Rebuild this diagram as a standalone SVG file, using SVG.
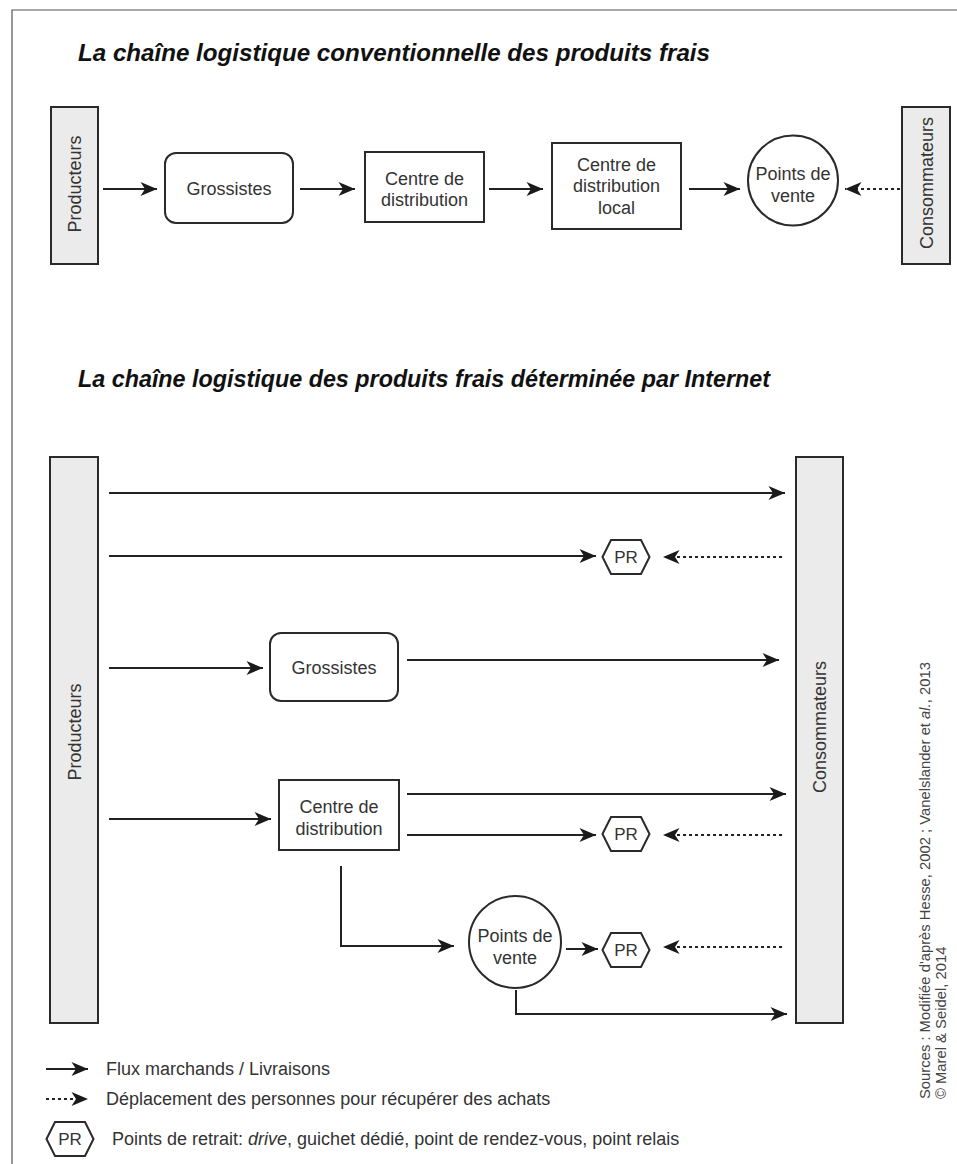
<svg xmlns="http://www.w3.org/2000/svg" width="957" height="1164" viewBox="0 0 957 1164">
<defs>
<style>
.bg{fill:#ffffff}
.frame{fill:none;stroke:#555;stroke-width:1.2}
.actor{fill:#ebebeb;stroke:#2a2a2a;stroke-width:2}
.node{fill:#ffffff;stroke:#2a2a2a;stroke-width:2}
.t{font-family:"Liberation Sans",Arial,sans-serif;font-size:18px;fill:#333;text-anchor:middle}
.title{font-family:"Liberation Sans",Arial,sans-serif;font-size:23px;font-weight:bold;font-style:italic;fill:#111}
.pr{font-family:"Liberation Sans",Arial,sans-serif;font-size:17px;fill:#333;text-anchor:middle}
.leg{font-family:"Liberation Sans",Arial,sans-serif;font-size:18px;fill:#333}
.src{font-family:"Liberation Sans",Arial,sans-serif;font-size:14.8px;fill:#444}
.c{fill:none;stroke:#222;stroke-width:2;marker-end:url(#ah)}
.d{fill:none;stroke:#222;stroke-width:2;stroke-dasharray:3 3;marker-end:url(#ah)}
</style>
<marker id="ah" markerWidth="18" markerHeight="16" refX="17" refY="7.5" orient="auto" markerUnits="userSpaceOnUse">
<path d="M0.5,0.5 L17,7.5 L0.5,14.5 L5,7.5 z" fill="#1a1a1a"/>
</marker>
</defs>
<rect class="bg" x="0" y="0" width="957" height="1164"/>
<path class="frame" d="M12,1164 V10 H957"/>

<text class="title" x="78" y="61" textLength="632" lengthAdjust="spacingAndGlyphs">La chaîne logistique conventionnelle des produits frais</text>
<text class="title" x="78" y="387" textLength="692" lengthAdjust="spacingAndGlyphs">La chaîne logistique des produits frais déterminée par Internet</text>

<!-- Top chain -->
<g id="top-producteurs">
<rect class="actor" x="51" y="107" width="47" height="157"/>
<text class="t" transform="translate(74,184) rotate(-90)" dy="6.5">Producteurs</text>
</g>
<g id="top-grossistes">
<rect class="node" x="165" y="153" width="128" height="70" rx="11"/>
<text class="t" x="229" y="195">Grossistes</text>
</g>
<g id="top-cdd">
<rect class="node" x="365" y="152" width="119" height="70"/>
<text class="t" x="424.5" y="185">Centre de</text>
<text class="t" x="424.5" y="206">distribution</text>
</g>
<g id="top-cddl">
<rect class="node" x="552" y="143" width="129" height="86"/>
<text class="t" x="616.5" y="171">Centre de</text>
<text class="t" x="616.5" y="192">distribution</text>
<text class="t" x="616.5" y="214">local</text>
</g>
<g id="top-pv">
<circle class="node" cx="793" cy="180.5" r="45"/>
<text class="t" x="793" y="180">Points de</text>
<text class="t" x="793" y="202">vente</text>
</g>
<g id="top-consommateurs">
<rect class="actor" x="902" y="107" width="48" height="157"/>
<text class="t" transform="translate(926,183) rotate(-90)" dy="6.5">Consommateurs</text>
</g>

<!-- Bottom chain -->
<g id="bot-producteurs">
<rect class="actor" x="50" y="457" width="48" height="566"/>
<text class="t" transform="translate(74,732) rotate(-90)" dy="6.5">Producteurs</text>
</g>
<g id="bot-consommateurs">
<rect class="actor" x="796" y="457" width="47" height="566"/>
<text class="t" transform="translate(819.5,727) rotate(-90)" dy="6.5">Consommateurs</text>
</g>
<g id="bot-pr1">
<polygon class="node" points="602.5,557 611,540 641,540 649.5,557 641,574 611,574"/>
<text class="pr" x="626" y="563">PR</text>
</g>
<g id="bot-grossistes">
<rect class="node" x="270" y="633" width="128" height="68" rx="11"/>
<text class="t" x="334" y="674">Grossistes</text>
</g>
<g id="bot-cdd">
<rect class="node" x="279" y="780" width="120" height="70"/>
<text class="t" x="339" y="813">Centre de</text>
<text class="t" x="339" y="835">distribution</text>
</g>
<g id="bot-pr2">
<polygon class="node" points="602.5,834 611,817 641,817 649.5,834 641,851 611,851"/>
<text class="pr" x="626" y="840">PR</text>
</g>
<g id="bot-pv">
<circle class="node" cx="515" cy="942" r="46"/>
<text class="t" x="515" y="942">Points de</text>
<text class="t" x="515" y="964">vente</text>
</g>
<g id="bot-pr3">
<polygon class="node" points="602.5,950 611,933 641,933 649.5,950 641,967 611,967"/>
<text class="pr" x="626" y="956">PR</text>
</g>

<g id="connectors">
<path class="c" d="M103,189 H157"/>
<path class="c" d="M300,189 H355"/>
<path class="c" d="M489,189 H543"/>
<path class="c" d="M689,189 H740"/>
<path class="d" d="M900,189 H845"/>

<path class="c" d="M109,493 H785"/>
<path class="c" d="M109,556 H596"/>
<path class="d" d="M782,557 H663"/>
<path class="c" d="M109,668 H263"/>
<path class="c" d="M407,660 H779"/>
<path class="c" d="M109,819 H271"/>
<path class="c" d="M407,794 H786"/>
<path class="c" d="M407,835 H596"/>
<path class="d" d="M782,835 H663"/>
<path class="c" d="M341,866 V946 H454"/>
<path class="c" d="M566,949 H598"/>
<path class="d" d="M782,947 H663"/>
<path class="c" d="M516,990 V1014 H787"/>
</g>

<!-- Legend -->
<g id="legend">
<path class="c" d="M46,1069 H88"/>
<text class="leg" x="106" y="1075">Flux marchands / Livraisons</text>
<path class="d" d="M46,1099 H88"/>
<text class="leg" x="106" y="1105">Déplacement des personnes pour récupérer des achats</text>
<polygon class="node" points="46.5,1139 55,1122 85,1122 93.5,1139 85,1156 55,1156"/>
<text class="pr" x="70" y="1145">PR</text>
<text class="leg" x="112" y="1145">Points de retrait: <tspan font-style="italic">drive</tspan>, guichet dédié, point de rendez-vous, point relais</text>
</g>

<g id="sources">
<text class="src" transform="translate(930,1099) rotate(-90)">Sources : Modifiée d'après Hesse, 2002 ; Vanelslander et <tspan font-style="italic">al.</tspan>, 2013</text>
<text class="src" transform="translate(946,1099) rotate(-90)">© Marel &amp; Seidel, 2014</text>
</g>
</svg>
